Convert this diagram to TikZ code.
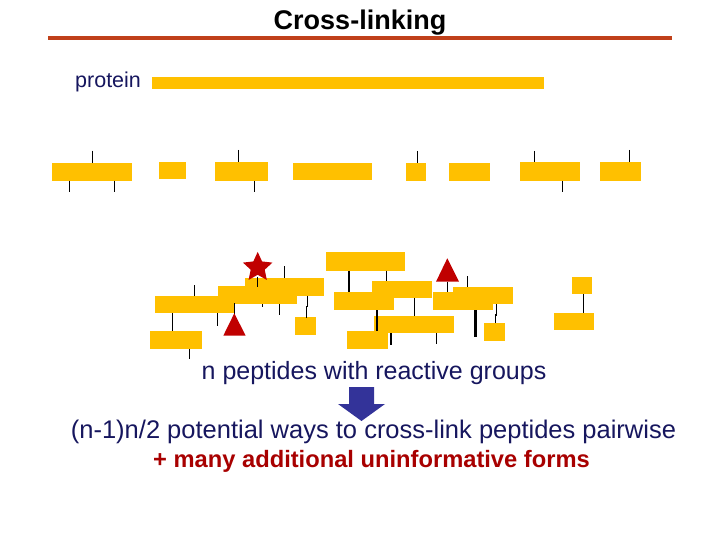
\documentclass[tikz,border=0pt]{standalone}
\usepackage{fontspec}
\setmainfont{Liberation Sans}
\usepackage{xcolor}
\usetikzlibrary{shapes.geometric}
\definecolor{bargold}{HTML}{FFC000}
\definecolor{markred}{HTML}{C00000}
\definecolor{rulered}{HTML}{C0401A}
\definecolor{navytext}{HTML}{16165E}
\definecolor{redtext}{HTML}{A80000}
\definecolor{arrowblue}{HTML}{333399}

\begin{document}
\begin{tikzpicture}[x=1pt, y=-1pt,
  bar/.style={fill=bargold},
  tick/.style={black, line width=1.4pt},
  fattick/.style={black, line width=2.5pt},
  marker/.style={fill=markred}]
  \useasboundingbox (0,0) rectangle (720,540);

  % Title and rule
  \node[font=\fontsize{27}{30}\selectfont\bfseries, anchor=base] (title) at (360,30) {Cross-linking};
  \draw[line width=3.5pt, rulered] (48,38) -- (672,38);

  % Whole protein
  \node[font=\fontsize{21.5}{24}\selectfont, text=navytext, anchor=base west, inner sep=0pt] (protein) at (75,88) {protein};
  \fill[bar] (152,77) rectangle (544,89);

  % Digested peptides (row)
  \fill[bar] (52,162.7) rectangle (132,180.7);
  \fill[bar] (159.3,162) rectangle (186,178.7);
  \fill[bar] (215,162) rectangle (267.7,181);
  \fill[bar] (293.3,163) rectangle (372,180);
  \fill[bar] (406,162.7) rectangle (426,180.7);
  \fill[bar] (449,163) rectangle (489.7,181);
  \fill[bar] (520,162) rectangle (580,181);
  \fill[bar] (600,162) rectangle (641,181);
  \draw[tick] (92.3,150.7) -- (92.3,162.7);
  \draw[tick] (69.7,180.7) -- (69.7,191.7);
  \draw[tick] (114.3,180.7) -- (114.3,191.7);
  \draw[tick] (238.7,150) -- (238.7,162);
  \draw[tick] (254.3,181) -- (254.3,192);
  \draw[tick] (417.3,151) -- (417.3,162.7);
  \draw[tick] (534.3,151) -- (534.3,162);
  \draw[tick] (562.3,181) -- (562.3,192);
  \draw[tick] (629.3,150) -- (629.3,162);

  % Peptide cluster with reactive groups
  \fill[bar] (155,296) rectangle (234,313.3);     % A
  \fill[bar] (150,331) rectangle (202,349);       % B
  \fill[bar] (218.3,285.7) rectangle (297,304);   % C
  \fill[bar] (245,277.7) rectangle (324,295.7);   % D
  \fill[bar] (295,316.7) rectangle (316,335);     % E
  \fill[bar] (326,252.3) rectangle (405,270.7);   % F
  \fill[bar] (334,292.3) rectangle (393.7,310);   % G
  \fill[bar] (372.3,281) rectangle (431.7,298.3); % H
  \fill[bar] (374.3,315.7) rectangle (454,333.3); % I
  \fill[bar] (347.3,331) rectangle (388,348.7);   % J
  \fill[bar] (433.3,292.3) rectangle (492.7,310);  % K
  \fill[bar] (453.3,287.3) rectangle (512.7,304.3);% L
  \fill[bar] (484.3,323.3) rectangle (505,340.7);  % M
  \fill[bar] (572.3,277.3) rectangle (592,294.3);  % N
  \fill[bar] (554,312.7) rectangle (594,330);      % O

  \draw[tick] (194.3,285) -- (194.3,296);
  \draw[tick] (172.3,313.3) -- (172.3,331);
  \draw[tick] (217.3,313.3) -- (217.3,325.7);
  \draw[tick] (189.3,349) -- (189.3,359.3);
  \draw[tick] (234.3,303.3) -- (234.3,314);
  \draw[tick] (257.7,276.7) -- (257.7,286.7);
  \draw[tick] (262.3,304) -- (262.3,306.7);
  \draw[tick] (279.3,304) -- (279.3,315);
  \draw[tick] (284.3,266) -- (284.3,277.7);
  \draw[tick] (307.3,295.7) -- (307.3,306.7) -- (306.3,306.7) -- (306.3,317.7);
  \draw[fattick] (349,270.7) -- (349,292.3);
  \draw[tick] (386.3,270.7) -- (386.3,281);
  \draw[fattick] (377,310) -- (377,331);
  \draw[tick] (414.7,298.3) -- (414.7,315.7);
  \draw[tick] (391,333.3) -- (391,345);
  \draw[tick] (436.3,333.3) -- (436.3,344.3);
  \draw[tick] (447.3,281.7) -- (447.3,292.3);
  \draw[tick] (467.3,276) -- (467.3,287.3);
  \draw[fattick] (475.7,310) -- (475.7,337.3);
  \draw[tick] (496.7,304.3) -- (496.7,315) -- (495.7,315) -- (495.7,323.3);
  \draw[tick] (583.3,294.3) -- (583.3,312.7);

  % Reactive groups
  \node[star, star points=5, star point ratio=2.1, minimum size=31pt, inner sep=0pt, marker] (star) at (257.7,267.4) {};
  \fill[marker] (234.3,313.3) -- (223.3,335.7) -- (245.7,335.7) -- cycle;
  \fill[marker] (447.3,258.3) -- (436,281.7) -- (459,281.7) -- cycle;

  % Captions
  \node[font=\fontsize{25}{28}\selectfont, text=navytext] (peptides) at (374,373) {n peptides with reactive groups};
  \node[font=\fontsize{25.5}{28}\selectfont, text=navytext] (ways) at (373.5,432) {(n-1)n/2 potential ways to cross-link peptides pairwise};
  \node[font=\fontsize{23.7}{26}\selectfont\bfseries, text=redtext] (forms) at (371.5,461) {+ many additional uninformative forms};

  % Block arrow
  \fill[arrowblue] (349,387) -- (374,387) -- (374,404) -- (385,404)
    -- (361.5,421) -- (338,404) -- (349,404) -- cycle;
\end{tikzpicture}
\end{document}
